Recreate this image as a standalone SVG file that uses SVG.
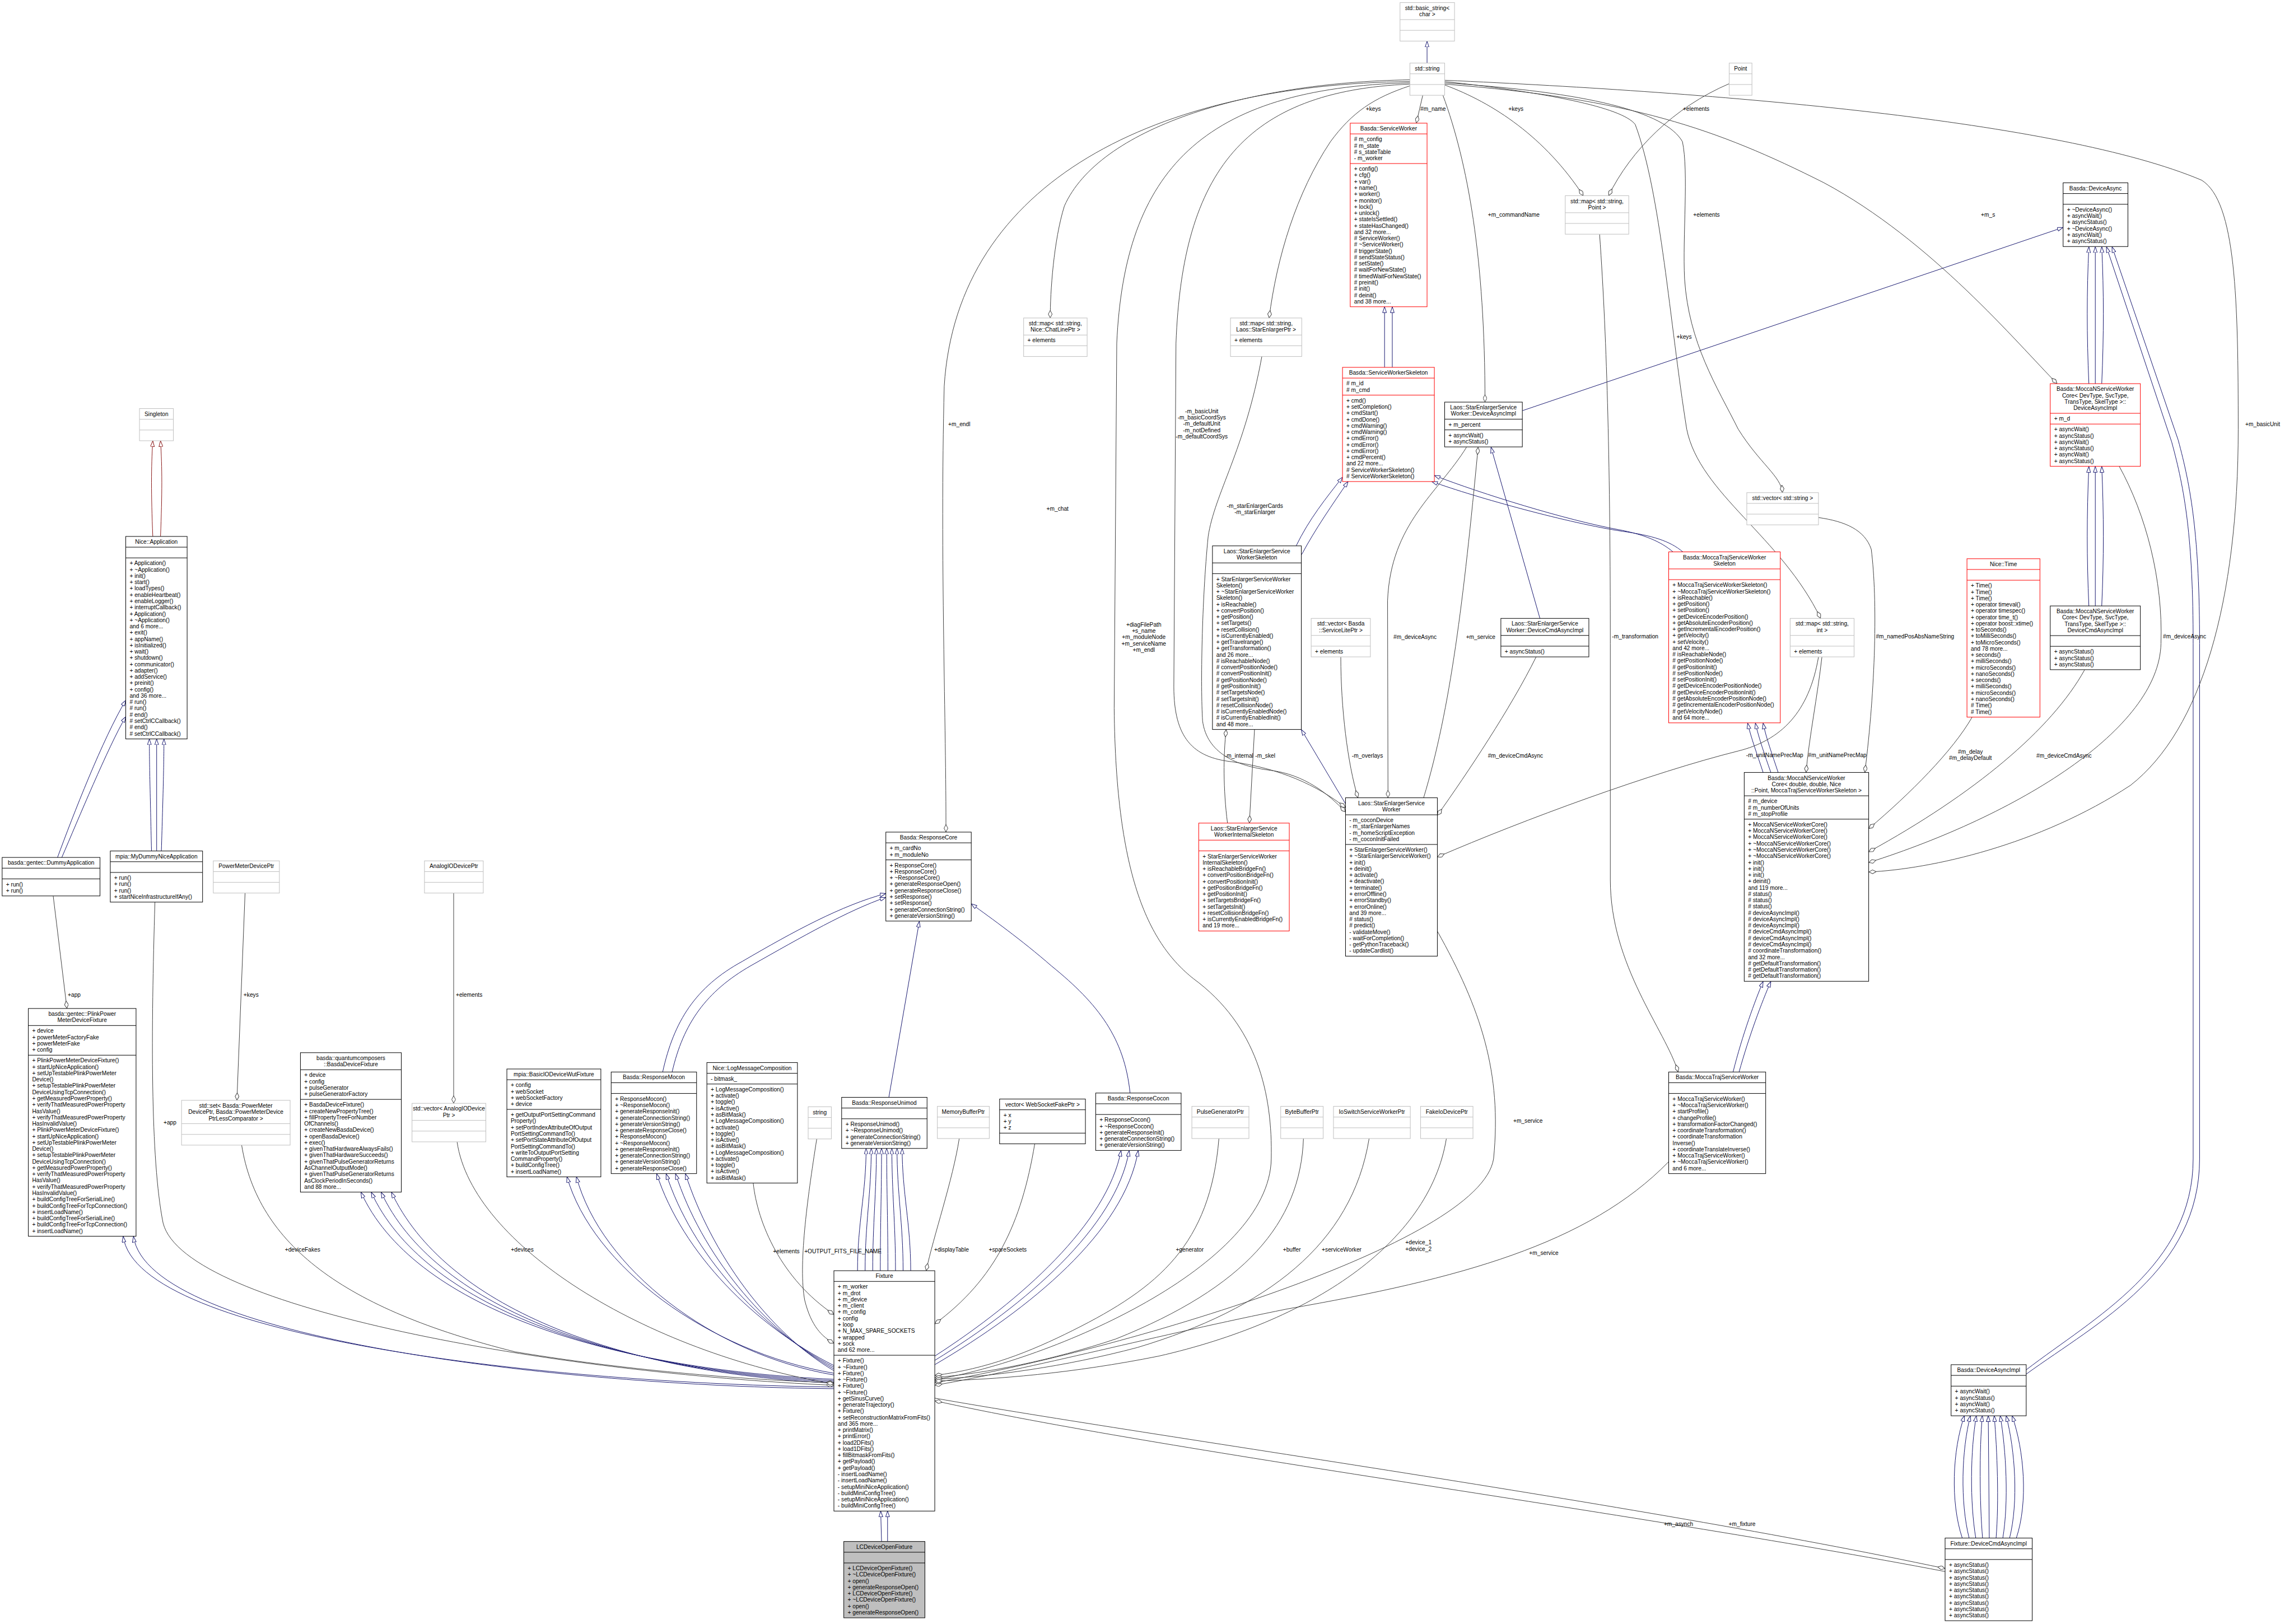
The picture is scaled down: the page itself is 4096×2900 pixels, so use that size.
<svg xmlns="http://www.w3.org/2000/svg" width="4096" height="2900" viewBox="0 0 4096 2900">
<defs>
<style>
text{font-family:"Liberation Sans",Arial,sans-serif;font-size:13.3px;fill:#000}
.c{text-anchor:middle}
.nb rect{fill:#fff;stroke:#000;stroke-width:1.3}
.nb path{stroke:#000;stroke-width:1.3}
.ng rect{fill:#fff;stroke:#bfbfbf;stroke-width:1.3}
.ng path{stroke:#bfbfbf;stroke-width:1.3}
.nr rect{fill:#fff;stroke:#ff0000;stroke-width:1.3}
.nr path{stroke:#ff0000;stroke-width:1.3}
.nf rect{fill:#bfbfbf;stroke:#000;stroke-width:1.3}
.nf path{stroke:#000;stroke-width:1.3}
.i{fill:none;stroke:#191970;stroke-width:1.3;marker-end:url(#tri)}
.p{fill:none;stroke:#8b1a1a;stroke-width:1.3;marker-end:url(#trir)}
.u{fill:none;stroke:#404040;stroke-width:1.3;marker-end:url(#dia)}
</style>
<marker id="tri" viewBox="0 0 14 10" refX="14" refY="5" markerWidth="14" markerHeight="10" orient="auto" markerUnits="userSpaceOnUse"><path d="M0.5,0.5 L14,5 L0.5,9.5 z" fill="#fff" stroke="#191970" stroke-width="1.3"/></marker>
<marker id="trir" viewBox="0 0 14 10" refX="14" refY="5" markerWidth="14" markerHeight="10" orient="auto" markerUnits="userSpaceOnUse"><path d="M0.5,0.5 L14,5 L0.5,9.5 z" fill="#fff" stroke="#8b1a1a" stroke-width="1.3"/></marker>
<marker id="dia" viewBox="0 0 18 10" refX="18" refY="5" markerWidth="18" markerHeight="10" orient="auto" markerUnits="userSpaceOnUse"><path d="M0.5,5 L9,0.5 L17.5,5 L9,9.5 z" fill="#fff" stroke="#404040" stroke-width="1.3"/></marker>
</defs>
<rect x="0" y="0" width="4096" height="2900" fill="#fff"/>
<g transform="scale(0.76633)">
<g id="connectors">
<path class="i" d="M3325,147 L3325,96"/>
<path class="i" d="M3226,856 L3226,715"/>
<path class="i" d="M3244,856 L3244,715"/>
<path class="i" d="M3020,1272 C3050,1210 3090,1160 3128,1112"/>
<path class="i" d="M3033,1292 C3065,1232 3105,1175 3141,1122"/>
<path class="i" d="M3898,1286 C3870,1262 3830,1245 3770,1234 C3650,1212 3450,1150 3342,1108"/>
<path class="i" d="M3921,1286 C3890,1260 3850,1248 3780,1238 C3660,1220 3440,1160 3336,1122"/>
<path class="i" d="M3547,957 L4807,530"/>
<path class="i" d="M3588,1441 L3474,1042"/>
<path class="i" d="M3135,1873 L3032,1700"/>
<path class="i" d="M4867,894 C4862,780 4862,680 4867,575"/>
<path class="i" d="M4882,894 L4882,575"/>
<path class="i" d="M4897,894 C4902,780 4902,680 4897,575"/>
<path class="i" d="M4721,3192 C4880,3070 5110,2950 5110,2700 L5110,1500 C5110,1250 5090,1140 5060,1030 L4908,575"/>
<path class="i" d="M4721,3202 C4890,3080 5125,2960 5125,2700 L5125,1500 C5125,1250 5105,1135 5075,1025 L4921,575"/>
<path class="i" d="M4867,1412 C4862,1300 4862,1200 4867,1087"/>
<path class="i" d="M4882,1412 L4882,1087"/>
<path class="i" d="M4897,1412 C4902,1300 4902,1200 4897,1087"/>
<path class="i" d="M4038,2498 C4060,2410 4090,2330 4108,2287"/>
<path class="i" d="M4052,2498 C4075,2415 4105,2335 4126,2287"/>
<path class="i" d="M4108,1800 C4095,1760 4080,1720 4072,1685"/>
<path class="i" d="M4126,1800 C4112,1760 4098,1720 4090,1685"/>
<path class="i" d="M4143,1800 C4130,1760 4115,1720 4108,1685"/>
<path class="i" d="M4572,3584 C4544,3500 4549,3380 4577,3299"/>
<path class="i" d="M4588,3584 C4567,3500 4570,3380 4591,3299"/>
<path class="i" d="M4603.5,3584 C4589.5,3500 4590.8,3380 4604.8,3299"/>
<path class="i" d="M4619.3,3584 C4612.3,3500 4611.7,3380 4618.7,3299"/>
<path class="i" d="M4635,3584 L4632.6,3299"/>
<path class="i" d="M4650.8,3584 C4657.8,3500 4653.5,3380 4646.5,3299"/>
<path class="i" d="M4666.5,3584 C4680.5,3500 4674.4,3380 4660.4,3299"/>
<path class="i" d="M4682.3,3584 C4703.3,3500 4695.3,3380 4674.3,3299"/>
<path class="i" d="M4698,3584 C4726,3500 4716.2,3380 4688.2,3299"/>
<path class="p" d="M356,1250 C352,1150 352,1090 356,1027"/>
<path class="p" d="M374,1250 C378,1150 378,1090 374,1027"/>
<path class="i" d="M134,1998 C170,1900 240,1720 293,1632"/>
<path class="i" d="M144,1998 C182,1910 252,1740 293,1670"/>
<path class="i" d="M353,1983 C350,1850 348,1780 348,1722"/>
<path class="i" d="M365,1983 L365,1722"/>
<path class="i" d="M376,1983 C380,1850 382,1780 382,1722"/>
<path class="i" d="M1943,3232 C1300,3225 320,3120 287,2881"/>
<path class="i" d="M1943,3236 C1310,3230 345,3120 311,2881"/>
<path class="i" d="M1943,3214 C1400,3190 960,3040 841,2778"/>
<path class="i" d="M1943,3217 C1410,3193 985,3040 865,2778"/>
<path class="i" d="M1943,3220 C1420,3196 1010,3040 888,2778"/>
<path class="i" d="M1943,3223 C1430,3199 1035,3040 912,2778"/>
<path class="i" d="M1943,3200 C1650,3150 1380,2950 1321,2742"/>
<path class="i" d="M1943,3204 C1660,3156 1400,2955 1343,2742"/>
<path class="i" d="M1943,3182 C1760,3090 1590,2920 1530,2735"/>
<path class="i" d="M1943,3186 C1770,3095 1612,2920 1552,2735"/>
<path class="i" d="M1943,3190 C1780,3100 1634,2920 1574,2735"/>
<path class="i" d="M1943,3194 C1790,3105 1657,2920 1597,2735"/>
<path class="i" d="M1998,2961 C1998,2850 2018,2780 2018,2676"/>
<path class="i" d="M2015.7,2961 C2015.7,2850 2030,2780 2030,2676"/>
<path class="i" d="M2033.4,2961 C2033.4,2850 2042,2780 2042,2676"/>
<path class="i" d="M2051.1,2961 C2051.1,2850 2054,2780 2054,2676"/>
<path class="i" d="M2068.8,2961 C2068.8,2850 2066,2780 2066,2676"/>
<path class="i" d="M2086.5,2961 C2086.5,2850 2078,2780 2078,2676"/>
<path class="i" d="M2104.2,2961 C2104.2,2850 2090,2780 2090,2676"/>
<path class="i" d="M2121.9,2961 C2121.9,2850 2102,2780 2102,2676"/>
<path class="i" d="M2178,3160 C2380,3030 2580,2850 2612,2681"/>
<path class="i" d="M2178,3170 C2390,3040 2600,2860 2631,2681"/>
<path class="i" d="M2178,3180 C2400,3050 2620,2870 2652,2681"/>
<path class="i" d="M2054,3592 L2052,3521"/>
<path class="i" d="M2068,3592 L2068,3521"/>
<path class="i" d="M1544,2498 C1570,2380 1620,2300 1730,2240 C1850,2170 1960,2110 2064,2082"/>
<path class="i" d="M1566,2498 C1592,2385 1645,2310 1750,2250 C1870,2182 1975,2122 2064,2091"/>
<path class="i" d="M2071,2557 L2142,2147"/>
<path class="i" d="M2633,2547 C2620,2420 2560,2340 2450,2251 C2380,2190 2310,2140 2263,2106"/>
<path class="u" d="M3315,222 L3300,287"/>
<path class="u" d="M3285,200 C3200,228 3150,262 3100,330 C3020,450 2975,600 2957,741"/>
<path class="u" d="M3285,186 C2900,192 2560,300 2480,480 C2455,560 2447,680 2447,741"/>
<path class="u" d="M3285,190 C2700,196 2230,420 2200,900 C2190,1300 2205,1700 2204,1939"/>
<path class="u" d="M3285,193 C2800,205 2620,400 2602,800 L2596,1650 C2600,2050 2680,2200 2780,2280 C2930,2390 2965,2550 2962,2700 C2958,2950 2450,3170 2178,3215"/>
<path class="u" d="M3285,196 C2900,212 2755,400 2740,800 L2735,1600 C2735,1720 2780,1765 2870,1775 C2980,1790 3070,1830 3135,1882"/>
<path class="u" d="M2940,831 C2900,1050 2830,1150 2815,1250 C2800,1400 2797,1600 2802,1680 C2812,1755 2880,1785 2960,1795 C3040,1805 3095,1850 3135,1892"/>
<path class="u" d="M3366,198 C3480,240 3600,320 3689,456"/>
<path class="u" d="M4029,195 C3900,250 3800,350 3748,456"/>
<path class="u" d="M3362,222 C3420,380 3460,600 3460,937"/>
<path class="u" d="M3366,190 C3600,215 3780,250 3810,290 C3870,450 3890,750 3930,1000 C3960,1150 4150,1250 4242,1441"/>
<path class="u" d="M3366,193 C3700,215 3880,260 3920,330 C3935,400 3920,550 3925,650 C3935,800 4000,900 4050,1000 C4100,1080 4150,1110 4153,1148"/>
<path class="u" d="M3366,196 C3800,230 4000,300 4250,426 C4500,560 4700,800 4793,894"/>
<path class="u" d="M3366,187 C4000,215 4800,280 5130,420 C5210,470 5215,700 5215,1000 C5215,1400 5130,1700 4964,1830 C4750,1970 4500,2025 4354,2032"/>
<path class="u" d="M4237,1206 C4300,1215 4345,1235 4360,1280 C4375,1400 4370,1600 4345,1800"/>
<path class="u" d="M4245,1531 C4235,1620 4215,1720 4208,1800"/>
<path class="u" d="M4237,1531 C4215,1660 4150,1725 4050,1750 C3850,1800 3550,1910 3349,1997"/>
<path class="u" d="M3727,546 C3745,800 3752,1100 3752,1500 L3752,2050 C3752,2250 3880,2400 3910,2498"/>
<path class="u" d="M4595,1671 C4550,1750 4450,1850 4354,1931"/>
<path class="u" d="M4857,1561 C4780,1700 4600,1850 4354,1985"/>
<path class="u" d="M4938,1087 C5000,1200 5040,1350 5035,1500 C5030,1700 4700,1900 4354,2010"/>
<path class="u" d="M3888,2707 C3700,2900 3400,2980 3000,3050 C2700,3110 2400,3190 2178,3228"/>
<path class="u" d="M3349,2170 C3450,2350 3500,2500 3480,2700 C3450,2900 2600,3150 2178,3222"/>
<path class="u" d="M3417,1042 C3350,1150 3240,1220 3233,1400 L3234,1859"/>
<path class="u" d="M3317,1859 C3380,1650 3410,1400 3444,1042"/>
<path class="u" d="M3124,1531 C3124,1650 3140,1780 3164,1859"/>
<path class="u" d="M3579,1531 C3520,1650 3420,1800 3349,1900"/>
<path class="u" d="M2860,1918 C2850,1840 2850,1760 2857,1700"/>
<path class="u" d="M2923,1700 L2911,1918"/>
<path class="u" d="M571,2081 L552,2564"/>
<path class="u" d="M1057,2081 L1057,2571"/>
<path class="u" d="M124,2088 L156,2350"/>
<path class="u" d="M361,2102 C352,2400 350,2700 380,2850 C430,3050 1300,3200 1943,3228"/>
<path class="u" d="M563,2668 C600,2900 800,3050 1200,3150 C1500,3200 1800,3218 1943,3222"/>
<path class="u" d="M1065,2661 C1100,2900 1500,3150 1943,3225"/>
<path class="u" d="M1755,2757 C1765,2850 1820,2980 1943,3063"/>
<path class="u" d="M1903,2654 C1880,2800 1860,2950 1875,3030 C1890,3090 1915,3115 1943,3130"/>
<path class="u" d="M2235,2653 C2220,2750 2175,2880 2158,2961"/>
<path class="u" d="M2411,2665 C2380,2850 2320,2980 2178,3085"/>
<path class="u" d="M2840,2653 C2820,2900 2700,3000 2500,3100 C2400,3150 2300,3190 2178,3205"/>
<path class="u" d="M3037,2653 C3030,2850 2900,3000 2600,3120 C2450,3170 2300,3200 2178,3210"/>
<path class="u" d="M3190,2653 C3150,2900 2950,3050 2650,3140 C2480,3185 2310,3208 2178,3214"/>
<path class="u" d="M3370,2653 C3330,2900 3050,3080 2700,3160 C2500,3200 2320,3215 2178,3218"/>
<path class="u" d="M2178,3258 C2700,3350 3800,3500 4532,3655"/>
<path class="u" d="M4532,3662 C3800,3522 2700,3380 2178,3264"/>
<text class="c" x="3200" y="259">+keys</text>
<text class="c" x="3339" y="259">#m_name</text>
<text class="c" x="3532" y="259">+keys</text>
<text class="c" x="3952" y="259">+elements</text>
<text class="c" x="3527" y="505">+m_commandName</text>
<text class="c" x="3976" y="505">+elements</text>
<text class="c" x="3924" y="789">+keys</text>
<text class="c" x="4632" y="505">+m_s</text>
<text class="c" x="5272" y="993">+m_basicUnit</text>
<text class="c" x="2235" y="993">+m_endl</text>
<text class="c" x="2800" y="963">-m_basicUnit<tspan x="2800" dy="14.7">-m_basicCoordSys</tspan><tspan x="2800" dy="14.7">-m_defaultUnit</tspan><tspan x="2800" dy="14.7">-m_notDefined</tspan><tspan x="2800" dy="14.7">-m_defaultCoordSys</tspan></text>
<text class="c" x="2924" y="1183">-m_starEnlargerCards<tspan x="2924" dy="14.7">-m_starEnlarger</tspan></text>
<text class="c" x="2464" y="1190">+m_chat</text>
<text class="c" x="2665" y="1460">+diagFilePath<tspan x="2665" dy="14.7">+s_name</tspan><tspan x="2665" dy="14.7">+m_moduleNode</tspan><tspan x="2665" dy="14.7">+m_serviceName</tspan><tspan x="2665" dy="14.7">+m_endl</tspan></text>
<text class="c" x="3297" y="1489">#m_deviceAsync</text>
<text class="c" x="3450" y="1489">+m_service</text>
<text class="c" x="2887" y="1765">-m_internal</text>
<text class="c" x="2948" y="1765">-m_skel</text>
<text class="c" x="3186" y="1765">-m_overlays</text>
<text class="c" x="3531" y="1765">#m_deviceCmdAsync</text>
<text class="c" x="3810" y="1488">-m_transformation</text>
<text class="c" x="4135" y="1764">-m_unitNamePrecMap</text>
<text class="c" x="4281" y="1764">#m_unitNamePrecMap</text>
<text class="c" x="4462" y="1488">#m_namedPosAbsNameString</text>
<text class="c" x="4591" y="1756">#m_delay<tspan x="4591" dy="14.7">#m_delayDefault</tspan></text>
<text class="c" x="4809" y="1765">#m_deviceCmdAsync</text>
<text class="c" x="5090" y="1488">#m_deviceAsync</text>
<text class="c" x="173" y="2323">+app</text>
<text class="c" x="585" y="2323">+keys</text>
<text class="c" x="1093" y="2323">+elements</text>
<text class="c" x="396" y="2620">+app</text>
<text class="c" x="705" y="2916">+deviceFakes</text>
<text class="c" x="1217" y="2916">+devices</text>
<text class="c" x="1832" y="2920">+elements</text>
<text class="c" x="1964" y="2920">+OUTPUT_FITS_FILE_NAME</text>
<text class="c" x="2217" y="2916">+displayTable</text>
<text class="c" x="2348" y="2916">+spareSockets</text>
<text class="c" x="2772" y="2916">+generator</text>
<text class="c" x="3010" y="2916">+buffer</text>
<text class="c" x="3126" y="2916">+serviceWorker</text>
<text class="c" x="3305" y="2900">+device_1<tspan x="3305" dy="14.7">+device_2</tspan></text>
<text class="c" x="3560" y="2616">+m_service</text>
<text class="c" x="3597" y="2925">+m_service</text>
<text class="c" x="3911" y="3556">+m_asynch</text>
<text class="c" x="4059" y="3556">+m_fixture</text>
</g>
<g id="n_basic_string" class="ng"><rect x="3262" y="6" width="127" height="89.7"/><path d="M3262,45.7h127M3262,70.7h127"/><text class="c" x="3325.5" y="23.2">std::basic_string&lt;<tspan x="3325.5" dy="14.7">char &gt;</tspan></text></g>
<g id="n_std_string" class="ng"><rect x="3285" y="147" width="81" height="75"/><path d="M3285,172h81M3285,197h81"/><text class="c" x="3325.5" y="164.2">std::string</text></g>
<g id="n_point" class="ng"><rect x="4029" y="147" width="53" height="75"/><path d="M4029,172h53M4029,197h53"/><text class="c" x="4055.5" y="164.2">Point</text></g>
<g id="n_serviceworker" class="nr"><rect x="3146" y="287" width="179" height="427.8"/><path d="M3146,312h179M3146,381.1h179"/><text class="c" x="3235.5" y="304.2">Basda::ServiceWorker</text>
<text x="3155" y="329.2"># m_config<tspan x="3155" dy="14.7"># m_state</tspan><tspan x="3155" dy="14.7"># s_stateTable</tspan><tspan x="3155" dy="14.7">- m_worker</tspan></text>
<text x="3155" y="398.3">+ config()<tspan x="3155" dy="14.7">+ cfg()</tspan><tspan x="3155" dy="14.7">+ var()</tspan><tspan x="3155" dy="14.7">+ name()</tspan><tspan x="3155" dy="14.7">+ worker()</tspan><tspan x="3155" dy="14.7">+ monitor()</tspan><tspan x="3155" dy="14.7">+ lock()</tspan><tspan x="3155" dy="14.7">+ unlock()</tspan><tspan x="3155" dy="14.7">+ stateIsSettled()</tspan><tspan x="3155" dy="14.7">+ stateHasChanged()</tspan><tspan x="3155" dy="14.7">and 32 more...</tspan><tspan x="3155" dy="14.7"># ServiceWorker()</tspan><tspan x="3155" dy="14.7"># ~ServiceWorker()</tspan><tspan x="3155" dy="14.7"># triggerState()</tspan><tspan x="3155" dy="14.7"># sendStateStatus()</tspan><tspan x="3155" dy="14.7"># setState()</tspan><tspan x="3155" dy="14.7"># waitForNewState()</tspan><tspan x="3155" dy="14.7"># timedWaitForNewState()</tspan><tspan x="3155" dy="14.7"># preinit()</tspan><tspan x="3155" dy="14.7"># init()</tspan><tspan x="3155" dy="14.7"># deinit()</tspan><tspan x="3155" dy="14.7">and 38 more...</tspan></text></g>
<g id="n_map_point" class="ng"><rect x="3647" y="456" width="148" height="89.7"/><path d="M3647,495.7h148M3647,520.7h148"/><text class="c" x="3721" y="473.2">std::map&lt; std::string,<tspan x="3721" dy="14.7">Point &gt;</tspan></text></g>
<g id="n_deviceasync" class="nb"><rect x="4807" y="426" width="151" height="148.5"/><path d="M4807,451h151M4807,476h151"/><text class="c" x="4882.5" y="443.2">Basda::DeviceAsync</text>
<text x="4816" y="493.2">+ ~DeviceAsync()<tspan x="4816" dy="14.7">+ asyncWait()</tspan><tspan x="4816" dy="14.7">+ asyncStatus()</tspan><tspan x="4816" dy="14.7">+ ~DeviceAsync()</tspan><tspan x="4816" dy="14.7">+ asyncWait()</tspan><tspan x="4816" dy="14.7">+ asyncStatus()</tspan></text></g>
<g id="n_singleton" class="ng"><rect x="325" y="952" width="79" height="75"/><path d="M325,977h79M325,1002h79"/><text class="c" x="364.5" y="969.2">Singleton</text></g>
<g id="n_nice_application" class="nb"><rect x="293" y="1250" width="143" height="471.9"/><path d="M293,1275h143M293,1300h143"/><text class="c" x="364.5" y="1267.2">Nice::Application</text>
<text x="302" y="1317.2">+ Application()<tspan x="302" dy="14.7">+ ~Application()</tspan><tspan x="302" dy="14.7">+ init()</tspan><tspan x="302" dy="14.7">+ start()</tspan><tspan x="302" dy="14.7">+ loadTypes()</tspan><tspan x="302" dy="14.7">+ enableHeartbeat()</tspan><tspan x="302" dy="14.7">+ enableLogger()</tspan><tspan x="302" dy="14.7">+ interruptCallback()</tspan><tspan x="302" dy="14.7">+ Application()</tspan><tspan x="302" dy="14.7">+ ~Application()</tspan><tspan x="302" dy="14.7">and 6 more...</tspan><tspan x="302" dy="14.7">+ exit()</tspan><tspan x="302" dy="14.7">+ appName()</tspan><tspan x="302" dy="14.7">+ isInitialized()</tspan><tspan x="302" dy="14.7">+ wait()</tspan><tspan x="302" dy="14.7">+ shutdown()</tspan><tspan x="302" dy="14.7">+ communicator()</tspan><tspan x="302" dy="14.7">+ adapter()</tspan><tspan x="302" dy="14.7">+ addService()</tspan><tspan x="302" dy="14.7">+ preinit()</tspan><tspan x="302" dy="14.7">+ config()</tspan><tspan x="302" dy="14.7">and 36 more...</tspan><tspan x="302" dy="14.7"># run()</tspan><tspan x="302" dy="14.7"># run()</tspan><tspan x="302" dy="14.7"># end()</tspan><tspan x="302" dy="14.7"># setCtrlCCallback()</tspan><tspan x="302" dy="14.7"># end()</tspan><tspan x="302" dy="14.7"># setCtrlCCallback()</tspan></text></g>
<g id="n_dummyapp" class="nb"><rect x="5" y="1998" width="228" height="89.7"/><path d="M5,2023h228M5,2048h228"/><text class="c" x="119" y="2015.2">basda::gentec::DummyApplication</text>
<text x="14" y="2065.2">+ run()<tspan x="14" dy="14.7">+ run()</tspan></text></g>
<g id="n_mydummy" class="nb"><rect x="257" y="1983" width="215" height="119.1"/><path d="M257,2008h215M257,2033h215"/><text class="c" x="364.5" y="2000.2">mpia::MyDummyNiceApplication</text>
<text x="266" y="2050.2">+ run()<tspan x="266" dy="14.7">+ run()</tspan><tspan x="266" dy="14.7">+ run()</tspan><tspan x="266" dy="14.7">+ startNiceInfrastructureIfAny()</tspan></text></g>
<g id="n_powermeterptr" class="ng"><rect x="497" y="2006" width="154" height="75"/><path d="M497,2031h154M497,2056h154"/><text class="c" x="574" y="2023.2">PowerMeterDevicePtr</text></g>
<g id="n_analogioptr" class="ng"><rect x="989" y="2006" width="137" height="75"/><path d="M989,2031h137M989,2056h137"/><text class="c" x="1057.5" y="2023.2">AnalogIODevicePtr</text></g>
<g id="n_plink" class="nb"><rect x="66" y="2350" width="251" height="530.7"/><path d="M66,2389.7h251M66,2458.8h251"/><text class="c" x="191.5" y="2367.2">basda::gentec::PlinkPower<tspan x="191.5" dy="14.7">MeterDeviceFixture</tspan></text>
<text x="75" y="2406.9">+ device<tspan x="75" dy="14.7">+ powerMeterFactoryFake</tspan><tspan x="75" dy="14.7">+ powerMeterFake</tspan><tspan x="75" dy="14.7">+ config</tspan></text>
<text x="75" y="2476">+ PlinkPowerMeterDeviceFixture()<tspan x="75" dy="14.7">+ startUpNiceApplication()</tspan><tspan x="75" dy="14.7">+ setUpTestablePlinkPowerMeter</tspan><tspan x="75" dy="14.7">Device()</tspan><tspan x="75" dy="14.7">+ setupTestablePlinkPowerMeter</tspan><tspan x="75" dy="14.7">DeviceUsingTcpConnection()</tspan><tspan x="75" dy="14.7">+ getMeasuredPowerProperty()</tspan><tspan x="75" dy="14.7">+ verifyThatMeasuredPowerProperty</tspan><tspan x="75" dy="14.7">HasValue()</tspan><tspan x="75" dy="14.7">+ verifyThatMeasuredPowerProperty</tspan><tspan x="75" dy="14.7">HasInvalidValue()</tspan><tspan x="75" dy="14.7">+ PlinkPowerMeterDeviceFixture()</tspan><tspan x="75" dy="14.7">+ startUpNiceApplication()</tspan><tspan x="75" dy="14.7">+ setUpTestablePlinkPowerMeter</tspan><tspan x="75" dy="14.7">Device()</tspan><tspan x="75" dy="14.7">+ setupTestablePlinkPowerMeter</tspan><tspan x="75" dy="14.7">DeviceUsingTcpConnection()</tspan><tspan x="75" dy="14.7">+ getMeasuredPowerProperty()</tspan><tspan x="75" dy="14.7">+ verifyThatMeasuredPowerProperty</tspan><tspan x="75" dy="14.7">HasValue()</tspan><tspan x="75" dy="14.7">+ verifyThatMeasuredPowerProperty</tspan><tspan x="75" dy="14.7">HasInvalidValue()</tspan><tspan x="75" dy="14.7">+ buildConfigTreeForSerialLine()</tspan><tspan x="75" dy="14.7">+ buildConfigTreeForTcpConnection()</tspan><tspan x="75" dy="14.7">+ insertLoadName()</tspan><tspan x="75" dy="14.7">+ buildConfigTreeForSerialLine()</tspan><tspan x="75" dy="14.7">+ buildConfigTreeForTcpConnection()</tspan><tspan x="75" dy="14.7">+ insertLoadName()</tspan></text></g>
<g id="n_set_powermeter" class="ng"><rect x="423" y="2564" width="253" height="104.4"/><path d="M423,2618.4h253M423,2643.4h253"/><text class="c" x="549.5" y="2581.2">std::set&lt; Basda::PowerMeter<tspan x="549.5" dy="14.7">DevicePtr, Basda::PowerMeterDevice</tspan><tspan x="549.5" dy="14.7">PtrLessComparator &gt;</tspan></text></g>
<g id="n_basdadevicefixture" class="nb"><rect x="700" y="2453" width="235" height="324.9"/><path d="M700,2492.7h235M700,2561.8h235"/><text class="c" x="817.5" y="2470.2">basda::quantumcomposers<tspan x="817.5" dy="14.7">::BasdaDeviceFixture</tspan></text>
<text x="709" y="2509.9">+ device<tspan x="709" dy="14.7">+ config</tspan><tspan x="709" dy="14.7">+ pulseGenerator</tspan><tspan x="709" dy="14.7">+ pulseGeneratorFactory</tspan></text>
<text x="709" y="2579">+ BasdaDeviceFixture()<tspan x="709" dy="14.7">+ createNewPropertyTree()</tspan><tspan x="709" dy="14.7">+ fillPropertyTreeForNumber</tspan><tspan x="709" dy="14.7">OfChannels()</tspan><tspan x="709" dy="14.7">+ createNewBasdaDevice()</tspan><tspan x="709" dy="14.7">+ openBasdaDevice()</tspan><tspan x="709" dy="14.7">+ exec()</tspan><tspan x="709" dy="14.7">+ givenThatHardwareAlwaysFails()</tspan><tspan x="709" dy="14.7">+ givenThatHardwareSucceeds()</tspan><tspan x="709" dy="14.7">+ givenThatPulseGeneratorReturns</tspan><tspan x="709" dy="14.7">AsChannelOutputMode()</tspan><tspan x="709" dy="14.7">+ givenThatPulseGeneratorReturns</tspan><tspan x="709" dy="14.7">AsClockPeriodInSeconds()</tspan><tspan x="709" dy="14.7">and 88 more...</tspan></text></g>
<g id="n_vector_analogio" class="ng"><rect x="960" y="2571" width="172" height="89.7"/><path d="M960,2610.7h172M960,2635.7h172"/><text class="c" x="1046" y="2588.2">std::vector&lt; AnalogIODevice<tspan x="1046" dy="14.7">Ptr &gt;</tspan></text></g>
<g id="n_basicio" class="nb"><rect x="1181" y="2491" width="219" height="251.4"/><path d="M1181,2516h219M1181,2585.1h219"/><text class="c" x="1290.5" y="2508.2">mpia::BasicIODeviceWutFixture</text>
<text x="1190" y="2533.2">+ config<tspan x="1190" dy="14.7">+ webSocket</tspan><tspan x="1190" dy="14.7">+ webSocketFactory</tspan><tspan x="1190" dy="14.7">+ device</tspan></text>
<text x="1190" y="2602.3">+ getOutputPortSettingCommand<tspan x="1190" dy="14.7">Property()</tspan><tspan x="1190" dy="14.7">+ setPortIndexAttributeOfOutput</tspan><tspan x="1190" dy="14.7">PortSettingCommandTo()</tspan><tspan x="1190" dy="14.7">+ setPortStateAttributeOfOutput</tspan><tspan x="1190" dy="14.7">PortSettingCommandTo()</tspan><tspan x="1190" dy="14.7">+ writeToOutputPortSetting</tspan><tspan x="1190" dy="14.7">CommandProperty()</tspan><tspan x="1190" dy="14.7">+ buildConfigTree()</tspan><tspan x="1190" dy="14.7">+ insertLoadName()</tspan></text></g>
<g id="n_responsemocon" class="nb"><rect x="1424" y="2498" width="199" height="236.7"/><path d="M1424,2523h199M1424,2548h199"/><text class="c" x="1523.5" y="2515.2">Basda::ResponseMocon</text>
<text x="1433" y="2565.2">+ ResponseMocon()<tspan x="1433" dy="14.7">+ ~ResponseMocon()</tspan><tspan x="1433" dy="14.7">+ generateResponseInit()</tspan><tspan x="1433" dy="14.7">+ generateConnectionString()</tspan><tspan x="1433" dy="14.7">+ generateVersionString()</tspan><tspan x="1433" dy="14.7">+ generateResponseClose()</tspan><tspan x="1433" dy="14.7">+ ResponseMocon()</tspan><tspan x="1433" dy="14.7">+ ~ResponseMocon()</tspan><tspan x="1433" dy="14.7">+ generateResponseInit()</tspan><tspan x="1433" dy="14.7">+ generateConnectionString()</tspan><tspan x="1433" dy="14.7">+ generateVersionString()</tspan><tspan x="1433" dy="14.7">+ generateResponseClose()</tspan></text></g>
<g id="n_logmessage" class="nb"><rect x="1647" y="2476" width="211" height="280.8"/><path d="M1647,2501h211M1647,2526h211"/><text class="c" x="1752.5" y="2493.2">Nice::LogMessageComposition</text>
<text x="1656" y="2518.2">- bitmask_</text>
<text x="1656" y="2543.2">+ LogMessageComposition()<tspan x="1656" dy="14.7">+ activate()</tspan><tspan x="1656" dy="14.7">+ toggle()</tspan><tspan x="1656" dy="14.7">+ isActive()</tspan><tspan x="1656" dy="14.7">+ asBitMask()</tspan><tspan x="1656" dy="14.7">+ LogMessageComposition()</tspan><tspan x="1656" dy="14.7">+ activate()</tspan><tspan x="1656" dy="14.7">+ toggle()</tspan><tspan x="1656" dy="14.7">+ isActive()</tspan><tspan x="1656" dy="14.7">+ asBitMask()</tspan><tspan x="1656" dy="14.7">+ LogMessageComposition()</tspan><tspan x="1656" dy="14.7">+ activate()</tspan><tspan x="1656" dy="14.7">+ toggle()</tspan><tspan x="1656" dy="14.7">+ isActive()</tspan><tspan x="1656" dy="14.7">+ asBitMask()</tspan></text></g>
<g id="n_string" class="ng"><rect x="1883" y="2579" width="54" height="75"/><path d="M1883,2604h54M1883,2629h54"/><text class="c" x="1910" y="2596.2">string</text></g>
<g id="n_responseunimod" class="nb"><rect x="1961" y="2557" width="199" height="119.1"/><path d="M1961,2582h199M1961,2607h199"/><text class="c" x="2060.5" y="2574.2">Basda::ResponseUnimod</text>
<text x="1970" y="2624.2">+ ResponseUnimod()<tspan x="1970" dy="14.7">+ ~ResponseUnimod()</tspan><tspan x="1970" dy="14.7">+ generateConnectionString()</tspan><tspan x="1970" dy="14.7">+ generateVersionString()</tspan></text></g>
<g id="n_memorybufferptr" class="ng"><rect x="2184" y="2578" width="121" height="75"/><path d="M2184,2603h121M2184,2628h121"/><text class="c" x="2244.5" y="2595.2">MemoryBufferPtr</text></g>
<g id="n_vector_websocket" class="nb"><rect x="2329" y="2561" width="200" height="104.4"/><path d="M2329,2586h200M2329,2640.4h200"/><text class="c" x="2429" y="2578.2">vector&lt; WebSocketFakePtr &gt;</text>
<text x="2338" y="2603.2">+ x<tspan x="2338" dy="14.7">+ y</tspan><tspan x="2338" dy="14.7">+ z</tspan></text></g>
<g id="n_responsecocon" class="nb"><rect x="2553" y="2547" width="199" height="133.8"/><path d="M2553,2572h199M2553,2597h199"/><text class="c" x="2652.5" y="2564.2">Basda::ResponseCocon</text>
<text x="2562" y="2614.2">+ ResponseCocon()<tspan x="2562" dy="14.7">+ ~ResponseCocon()</tspan><tspan x="2562" dy="14.7">+ generateResponseInit()</tspan><tspan x="2562" dy="14.7">+ generateConnectionString()</tspan><tspan x="2562" dy="14.7">+ generateVersionString()</tspan></text></g>
<g id="n_pulsegeneratorptr" class="ng"><rect x="2777" y="2578" width="133" height="75"/><path d="M2777,2603h133M2777,2628h133"/><text class="c" x="2843.5" y="2595.2">PulseGeneratorPtr</text></g>
<g id="n_bytebufferptr" class="ng"><rect x="2984" y="2578" width="99" height="75"/><path d="M2984,2603h99M2984,2628h99"/><text class="c" x="3033.5" y="2595.2">ByteBufferPtr</text></g>
<g id="n_ioswitchptr" class="ng"><rect x="3107" y="2578" width="179" height="75"/><path d="M3107,2603h179M3107,2628h179"/><text class="c" x="3196.5" y="2595.2">IoSwitchServiceWorkerPtr</text></g>
<g id="n_fakeiodeviceptr" class="ng"><rect x="3310" y="2578" width="122" height="75"/><path d="M3310,2603h122M3310,2628h122"/><text class="c" x="3371" y="2595.2">FakeIoDevicePtr</text></g>
<g id="n_responsecore" class="nb"><rect x="2064" y="1939" width="199" height="207.3"/><path d="M2064,1964h199M2064,2003.7h199"/><text class="c" x="2163.5" y="1956.2">Basda::ResponseCore</text>
<text x="2073" y="1981.2">+ m_cardNo<tspan x="2073" dy="14.7">+ m_moduleNo</tspan></text>
<text x="2073" y="2020.9">+ ResponseCore()<tspan x="2073" dy="14.7">+ ResponseCore()</tspan><tspan x="2073" dy="14.7">+ ~ResponseCore()</tspan><tspan x="2073" dy="14.7">+ generateResponseOpen()</tspan><tspan x="2073" dy="14.7">+ generateResponseClose()</tspan><tspan x="2073" dy="14.7">+ setResponse()</tspan><tspan x="2073" dy="14.7">+ setResponse()</tspan><tspan x="2073" dy="14.7">+ generateConnectionString()</tspan><tspan x="2073" dy="14.7">+ generateVersionString()</tspan></text></g>
<g id="n_map_chatline" class="ng"><rect x="2385" y="741" width="148" height="89.7"/><path d="M2385,780.7h148M2385,805.7h148"/><text class="c" x="2459" y="758.2">std::map&lt; std::string,<tspan x="2459" dy="14.7">Nice::ChatLinePtr &gt;</tspan></text><text x="2394" y="797.9">+ elements</text></g>
<g id="n_map_starenlarger" class="ng"><rect x="2867" y="741" width="166" height="89.7"/><path d="M2867,780.7h166M2867,805.7h166"/><text class="c" x="2950" y="758.2">std::map&lt; std::string,<tspan x="2950" dy="14.7">Laos::StarEnlargerPtr &gt;</tspan></text><text x="2876" y="797.9">+ elements</text></g>
<g id="n_sw_skeleton" class="nr"><rect x="3128" y="856" width="214" height="266.1"/><path d="M3128,881h214M3128,920.7h214"/><text class="c" x="3235" y="873.2">Basda::ServiceWorkerSkeleton</text>
<text x="3137" y="898.2"># m_id<tspan x="3137" dy="14.7"># m_cmd</tspan></text>
<text x="3137" y="937.9">+ cmd()<tspan x="3137" dy="14.7">+ setCompletion()</tspan><tspan x="3137" dy="14.7">+ cmdStart()</tspan><tspan x="3137" dy="14.7">+ cmdDone()</tspan><tspan x="3137" dy="14.7">+ cmdWarning()</tspan><tspan x="3137" dy="14.7">+ cmdWarning()</tspan><tspan x="3137" dy="14.7">+ cmdError()</tspan><tspan x="3137" dy="14.7">+ cmdError()</tspan><tspan x="3137" dy="14.7">+ cmdError()</tspan><tspan x="3137" dy="14.7">+ cmdPercent()</tspan><tspan x="3137" dy="14.7">and 22 more...</tspan><tspan x="3137" dy="14.7"># ServiceWorkerSkeleton()</tspan><tspan x="3137" dy="14.7"># ServiceWorkerSkeleton()</tspan></text></g>
<g id="n_laos_deviceasyncimpl" class="nb"><rect x="3366" y="937" width="181" height="104.4"/><path d="M3366,976.7h181M3366,1001.7h181"/><text class="c" x="3456.5" y="954.2">Laos::StarEnlargerService<tspan x="3456.5" dy="14.7">Worker::DeviceAsyncImpl</tspan></text>
<text x="3375" y="993.9">+ m_percent</text>
<text x="3375" y="1018.9">+ asyncWait()<tspan x="3375" dy="14.7">+ asyncStatus()</tspan></text></g>
<g id="n_laos_sw_skeleton" class="nb"><rect x="2825" y="1272" width="207" height="427.8"/><path d="M2825,1311.7h207M2825,1336.7h207"/><text class="c" x="2928.5" y="1289.2">Laos::StarEnlargerService<tspan x="2928.5" dy="14.7">WorkerSkeleton</tspan></text>
<text x="2834" y="1353.9">+ StarEnlargerServiceWorker<tspan x="2834" dy="14.7">Skeleton()</tspan><tspan x="2834" dy="14.7">+ ~StarEnlargerServiceWorker</tspan><tspan x="2834" dy="14.7">Skeleton()</tspan><tspan x="2834" dy="14.7">+ isReachable()</tspan><tspan x="2834" dy="14.7">+ convertPosition()</tspan><tspan x="2834" dy="14.7">+ getPosition()</tspan><tspan x="2834" dy="14.7">+ setTargets()</tspan><tspan x="2834" dy="14.7">+ resetCollision()</tspan><tspan x="2834" dy="14.7">+ isCurrentlyEnabled()</tspan><tspan x="2834" dy="14.7">+ getTravelrange()</tspan><tspan x="2834" dy="14.7">+ getTransformation()</tspan><tspan x="2834" dy="14.7">and 26 more...</tspan><tspan x="2834" dy="14.7"># isReachableNode()</tspan><tspan x="2834" dy="14.7"># convertPositionNode()</tspan><tspan x="2834" dy="14.7"># convertPositionInit()</tspan><tspan x="2834" dy="14.7"># getPositionNode()</tspan><tspan x="2834" dy="14.7"># getPositionInit()</tspan><tspan x="2834" dy="14.7"># setTargetsNode()</tspan><tspan x="2834" dy="14.7"># setTargetsInit()</tspan><tspan x="2834" dy="14.7"># resetCollisionNode()</tspan><tspan x="2834" dy="14.7"># isCurrentlyEnabledNode()</tspan><tspan x="2834" dy="14.7"># isCurrentlyEnabledInit()</tspan><tspan x="2834" dy="14.7">and 48 more...</tspan></text></g>
<g id="n_vector_servicelite" class="ng"><rect x="3055" y="1441" width="138" height="89.7"/><path d="M3055,1480.7h138M3055,1505.7h138"/><text class="c" x="3124" y="1458.2">std::vector&lt; Basda<tspan x="3124" dy="14.7">::ServiceLitePtr &gt;</tspan></text><text x="3064" y="1522.9">+ elements</text></g>
<g id="n_laos_devicecmdasyncimpl" class="nb"><rect x="3497" y="1441" width="205" height="89.7"/><path d="M3497,1480.7h205M3497,1505.7h205"/><text class="c" x="3599.5" y="1458.2">Laos::StarEnlargerService<tspan x="3599.5" dy="14.7">Worker::DeviceCmdAsyncImpl</tspan></text><text x="3506" y="1522.9">+ asyncStatus()</text></g>
<g id="n_laos_internal_skeleton" class="nr"><rect x="2793" y="1918" width="211" height="251.4"/><path d="M2793,1957.7h211M2793,1982.7h211"/><text class="c" x="2898.5" y="1935.2">Laos::StarEnlargerService<tspan x="2898.5" dy="14.7">WorkerInternalSkeleton</tspan></text>
<text x="2802" y="1999.9">+ StarEnlargerServiceWorker<tspan x="2802" dy="14.7">InternalSkeleton()</tspan><tspan x="2802" dy="14.7">+ isReachableBridgeFn()</tspan><tspan x="2802" dy="14.7">+ convertPositionBridgeFn()</tspan><tspan x="2802" dy="14.7">+ convertPositionInit()</tspan><tspan x="2802" dy="14.7">+ getPositionBridgeFn()</tspan><tspan x="2802" dy="14.7">+ getPositionInit()</tspan><tspan x="2802" dy="14.7">+ setTargetsBridgeFn()</tspan><tspan x="2802" dy="14.7">+ setTargetsInit()</tspan><tspan x="2802" dy="14.7">+ resetCollisionBridgeFn()</tspan><tspan x="2802" dy="14.7">+ isCurrentlyEnabledBridgeFn()</tspan><tspan x="2802" dy="14.7">and 19 more...</tspan></text></g>
<g id="n_laos_serviceworker" class="nb"><rect x="3135" y="1859" width="214" height="369"/><path d="M3135,1898.7h214M3135,1967.8h214"/><text class="c" x="3242" y="1876.2">Laos::StarEnlargerService<tspan x="3242" dy="14.7">Worker</tspan></text>
<text x="3144" y="1915.9">- m_coconDevice<tspan x="3144" dy="14.7">- m_starEnlargerNames</tspan><tspan x="3144" dy="14.7">- m_homeScriptException</tspan><tspan x="3144" dy="14.7">- m_coconInitFailed</tspan></text>
<text x="3144" y="1985">+ StarEnlargerServiceWorker()<tspan x="3144" dy="14.7">+ ~StarEnlargerServiceWorker()</tspan><tspan x="3144" dy="14.7">+ init()</tspan><tspan x="3144" dy="14.7">+ deinit()</tspan><tspan x="3144" dy="14.7">+ activate()</tspan><tspan x="3144" dy="14.7">+ deactivate()</tspan><tspan x="3144" dy="14.7">+ terminate()</tspan><tspan x="3144" dy="14.7">+ errorOffline()</tspan><tspan x="3144" dy="14.7">+ errorStandby()</tspan><tspan x="3144" dy="14.7">+ errorOnline()</tspan><tspan x="3144" dy="14.7">and 39 more...</tspan><tspan x="3144" dy="14.7"># status()</tspan><tspan x="3144" dy="14.7"># predict()</tspan><tspan x="3144" dy="14.7">- validateMove()</tspan><tspan x="3144" dy="14.7">- waitForCompletion()</tspan><tspan x="3144" dy="14.7">- getPythonTraceback()</tspan><tspan x="3144" dy="14.7">- updateCardlist()</tspan></text></g>
<g id="n_moccatraj_skeleton" class="nr"><rect x="3888" y="1286" width="260" height="398.4"/><path d="M3888,1325.7h260M3888,1350.7h260"/><text class="c" x="4018" y="1303.2">Basda::MoccaTrajServiceWorker<tspan x="4018" dy="14.7">Skeleton</tspan></text>
<text x="3897" y="1367.9">+ MoccaTrajServiceWorkerSkeleton()<tspan x="3897" dy="14.7">+ ~MoccaTrajServiceWorkerSkeleton()</tspan><tspan x="3897" dy="14.7">+ isReachable()</tspan><tspan x="3897" dy="14.7">+ getPosition()</tspan><tspan x="3897" dy="14.7">+ setPosition()</tspan><tspan x="3897" dy="14.7">+ getDeviceEncoderPosition()</tspan><tspan x="3897" dy="14.7">+ getAbsoluteEncoderPosition()</tspan><tspan x="3897" dy="14.7">+ getIncrementalEncoderPosition()</tspan><tspan x="3897" dy="14.7">+ getVelocity()</tspan><tspan x="3897" dy="14.7">+ setVelocity()</tspan><tspan x="3897" dy="14.7">and 42 more...</tspan><tspan x="3897" dy="14.7"># isReachableNode()</tspan><tspan x="3897" dy="14.7"># getPositionNode()</tspan><tspan x="3897" dy="14.7"># getPositionInit()</tspan><tspan x="3897" dy="14.7"># setPositionNode()</tspan><tspan x="3897" dy="14.7"># setPositionInit()</tspan><tspan x="3897" dy="14.7"># getDeviceEncoderPositionNode()</tspan><tspan x="3897" dy="14.7"># getDeviceEncoderPositionInit()</tspan><tspan x="3897" dy="14.7"># getAbsoluteEncoderPositionNode()</tspan><tspan x="3897" dy="14.7"># getIncrementalEncoderPositionNode()</tspan><tspan x="3897" dy="14.7"># getVelocityNode()</tspan><tspan x="3897" dy="14.7">and 64 more...</tspan></text></g>
<g id="n_vector_string" class="ng"><rect x="4070" y="1148" width="167" height="75"/><path d="M4070,1173h167M4070,1198h167"/><text class="c" x="4153.5" y="1165.2">std::vector&lt; std::string &gt;</text></g>
<g id="n_map_string_int" class="ng"><rect x="4171" y="1441" width="149" height="89.7"/><path d="M4171,1480.7h149M4171,1505.7h149"/><text class="c" x="4245.5" y="1458.2">std::map&lt; std::string,<tspan x="4245.5" dy="14.7">int &gt;</tspan></text><text x="4180" y="1522.9">+ elements</text></g>
<g id="n_nice_time" class="nr"><rect x="4583" y="1302" width="170" height="369"/><path d="M4583,1327h170M4583,1352h170"/><text class="c" x="4668" y="1319.2">Nice::Time</text>
<text x="4592" y="1369.2">+ Time()<tspan x="4592" dy="14.7">+ Time()</tspan><tspan x="4592" dy="14.7">+ Time()</tspan><tspan x="4592" dy="14.7">+ operator timeval()</tspan><tspan x="4592" dy="14.7">+ operator timespec()</tspan><tspan x="4592" dy="14.7">+ operator time_t()</tspan><tspan x="4592" dy="14.7">+ operator boost::xtime()</tspan><tspan x="4592" dy="14.7">+ toSeconds()</tspan><tspan x="4592" dy="14.7">+ toMilliSeconds()</tspan><tspan x="4592" dy="14.7">+ toMicroSeconds()</tspan><tspan x="4592" dy="14.7">and 78 more...</tspan><tspan x="4592" dy="14.7">+ seconds()</tspan><tspan x="4592" dy="14.7">+ milliSeconds()</tspan><tspan x="4592" dy="14.7">+ microSeconds()</tspan><tspan x="4592" dy="14.7">+ nanoSeconds()</tspan><tspan x="4592" dy="14.7">+ seconds()</tspan><tspan x="4592" dy="14.7">+ milliSeconds()</tspan><tspan x="4592" dy="14.7">+ microSeconds()</tspan><tspan x="4592" dy="14.7">+ nanoSeconds()</tspan><tspan x="4592" dy="14.7"># Time()</tspan><tspan x="4592" dy="14.7"># Time()</tspan></text></g>
<g id="n_moccan_deviceasyncimpl" class="nr"><rect x="4777" y="894" width="210" height="192.6"/><path d="M4777,963.1h210M4777,988.1h210"/><text class="c" x="4882" y="911.2">Basda::MoccaNServiceWorker<tspan x="4882" dy="14.7">Core&lt; DevType, SvcType,</tspan><tspan x="4882" dy="14.7">TransType, SkelType &gt;::</tspan><tspan x="4882" dy="14.7">DeviceAsyncImpl</tspan></text>
<text x="4786" y="980.3">+ m_d</text>
<text x="4786" y="1005.3">+ asyncWait()<tspan x="4786" dy="14.7">+ asyncStatus()</tspan><tspan x="4786" dy="14.7">+ asyncWait()</tspan><tspan x="4786" dy="14.7">+ asyncStatus()</tspan><tspan x="4786" dy="14.7">+ asyncWait()</tspan><tspan x="4786" dy="14.7">+ asyncStatus()</tspan></text></g>
<g id="n_moccan_devicecmdasyncimpl" class="nb"><rect x="4777" y="1412" width="210" height="148.5"/><path d="M4777,1481.1h210M4777,1506.1h210"/><text class="c" x="4882" y="1429.2">Basda::MoccaNServiceWorker<tspan x="4882" dy="14.7">Core&lt; DevType, SvcType,</tspan><tspan x="4882" dy="14.7">TransType, SkelType &gt;::</tspan><tspan x="4882" dy="14.7">DeviceCmdAsyncImpl</tspan></text>
<text x="4786" y="1523.3">+ asyncStatus()<tspan x="4786" dy="14.7">+ asyncStatus()</tspan><tspan x="4786" dy="14.7">+ asyncStatus()</tspan></text></g>
<g id="n_moccan_core" class="nb"><rect x="4064" y="1800" width="290" height="486.6"/><path d="M4064,1854.4h290M4064,1908.8h290"/><text class="c" x="4209" y="1817.2">Basda::MoccaNServiceWorker<tspan x="4209" dy="14.7">Core&lt; double, double, Nice</tspan><tspan x="4209" dy="14.7">::Point, MoccaTrajServiceWorkerSkeleton &gt;</tspan></text>
<text x="4073" y="1871.6"># m_device<tspan x="4073" dy="14.7"># m_numberOfUnits</tspan><tspan x="4073" dy="14.7"># m_stopProfile</tspan></text>
<text x="4073" y="1926">+ MoccaNServiceWorkerCore()<tspan x="4073" dy="14.7">+ MoccaNServiceWorkerCore()</tspan><tspan x="4073" dy="14.7">+ MoccaNServiceWorkerCore()</tspan><tspan x="4073" dy="14.7">+ ~MoccaNServiceWorkerCore()</tspan><tspan x="4073" dy="14.7">+ ~MoccaNServiceWorkerCore()</tspan><tspan x="4073" dy="14.7">+ ~MoccaNServiceWorkerCore()</tspan><tspan x="4073" dy="14.7">+ init()</tspan><tspan x="4073" dy="14.7">+ init()</tspan><tspan x="4073" dy="14.7">+ init()</tspan><tspan x="4073" dy="14.7">+ deinit()</tspan><tspan x="4073" dy="14.7">and 119 more...</tspan><tspan x="4073" dy="14.7"># status()</tspan><tspan x="4073" dy="14.7"># status()</tspan><tspan x="4073" dy="14.7"># status()</tspan><tspan x="4073" dy="14.7"># deviceAsyncImpl()</tspan><tspan x="4073" dy="14.7"># deviceAsyncImpl()</tspan><tspan x="4073" dy="14.7"># deviceAsyncImpl()</tspan><tspan x="4073" dy="14.7"># deviceCmdAsyncImpl()</tspan><tspan x="4073" dy="14.7"># deviceCmdAsyncImpl()</tspan><tspan x="4073" dy="14.7"># deviceCmdAsyncImpl()</tspan><tspan x="4073" dy="14.7"># coordinateTransformation()</tspan><tspan x="4073" dy="14.7">and 32 more...</tspan><tspan x="4073" dy="14.7"># getDefaultTransformation()</tspan><tspan x="4073" dy="14.7"># getDefaultTransformation()</tspan><tspan x="4073" dy="14.7"># getDefaultTransformation()</tspan></text></g>
<g id="n_moccatraj_serviceworker" class="nb"><rect x="3888" y="2498" width="226" height="236.7"/><path d="M3888,2523h226M3888,2548h226"/><text class="c" x="4001" y="2515.2">Basda::MoccaTrajServiceWorker</text>
<text x="3897" y="2565.2">+ MoccaTrajServiceWorker()<tspan x="3897" dy="14.7">+ ~MoccaTrajServiceWorker()</tspan><tspan x="3897" dy="14.7">+ startProfile()</tspan><tspan x="3897" dy="14.7">+ changeProfile()</tspan><tspan x="3897" dy="14.7">+ transformationFactorChanged()</tspan><tspan x="3897" dy="14.7">+ coordinateTransformation()</tspan><tspan x="3897" dy="14.7">+ coordinateTransformation</tspan><tspan x="3897" dy="14.7">Inverse()</tspan><tspan x="3897" dy="14.7">+ coordinateTranslateInverse()</tspan><tspan x="3897" dy="14.7">+ MoccaTrajServiceWorker()</tspan><tspan x="3897" dy="14.7">+ ~MoccaTrajServiceWorker()</tspan><tspan x="3897" dy="14.7">and 6 more...</tspan></text></g>
<g id="n_fixture" class="nb"><rect x="1943" y="2961" width="235" height="560.1"/><path d="M1943,2986h235M1943,3158h235"/><text class="c" x="2060.5" y="2978.2">Fixture</text>
<text x="1952" y="3003.2">+ m_worker<tspan x="1952" dy="14.7">+ m_drot</tspan><tspan x="1952" dy="14.7">+ m_device</tspan><tspan x="1952" dy="14.7">+ m_client</tspan><tspan x="1952" dy="14.7">+ m_config</tspan><tspan x="1952" dy="14.7">+ config</tspan><tspan x="1952" dy="14.7">+ loop</tspan><tspan x="1952" dy="14.7">+ N_MAX_SPARE_SOCKETS</tspan><tspan x="1952" dy="14.7">+ wrapped</tspan><tspan x="1952" dy="14.7">+ sock</tspan><tspan x="1952" dy="14.7">and 62 more...</tspan></text>
<text x="1952" y="3175.2">+ Fixture()<tspan x="1952" dy="14.7">+ ~Fixture()</tspan><tspan x="1952" dy="14.7">+ Fixture()</tspan><tspan x="1952" dy="14.7">+ ~Fixture()</tspan><tspan x="1952" dy="14.7">+ Fixture()</tspan><tspan x="1952" dy="14.7">+ ~Fixture()</tspan><tspan x="1952" dy="14.7">+ getSinusCurve()</tspan><tspan x="1952" dy="14.7">+ generateTrajectory()</tspan><tspan x="1952" dy="14.7">+ Fixture()</tspan><tspan x="1952" dy="14.7">+ setReconstructionMatrixFromFits()</tspan><tspan x="1952" dy="14.7">and 365 more...</tspan><tspan x="1952" dy="14.7">+ printMatrix()</tspan><tspan x="1952" dy="14.7">+ printError()</tspan><tspan x="1952" dy="14.7">+ load2DFits()</tspan><tspan x="1952" dy="14.7">+ load1DFits()</tspan><tspan x="1952" dy="14.7">+ fillBitmaskFromFits()</tspan><tspan x="1952" dy="14.7">+ getPayload()</tspan><tspan x="1952" dy="14.7">+ getPayload()</tspan><tspan x="1952" dy="14.7">- insertLoadName()</tspan><tspan x="1952" dy="14.7">- insertLoadName()</tspan><tspan x="1952" dy="14.7">- setupMiniNiceApplication()</tspan><tspan x="1952" dy="14.7">- buildMiniConfigTree()</tspan><tspan x="1952" dy="14.7">- setupMiniNiceApplication()</tspan><tspan x="1952" dy="14.7">- buildMiniConfigTree()</tspan></text></g>
<g id="n_lcdeviceopenfixture" class="nf"><rect x="1966" y="3592" width="189" height="177.9"/><path d="M1966,3617h189M1966,3642h189"/><text class="c" x="2060.5" y="3609.2">LCDeviceOpenFixture</text>
<text x="1975" y="3659.2">+ LCDeviceOpenFixture()<tspan x="1975" dy="14.7">+ ~LCDeviceOpenFixture()</tspan><tspan x="1975" dy="14.7">+ open()</tspan><tspan x="1975" dy="14.7">+ generateResponseOpen()</tspan><tspan x="1975" dy="14.7">+ LCDeviceOpenFixture()</tspan><tspan x="1975" dy="14.7">+ ~LCDeviceOpenFixture()</tspan><tspan x="1975" dy="14.7">+ open()</tspan><tspan x="1975" dy="14.7">+ generateResponseOpen()</tspan></text></g>
<g id="n_basda_deviceasyncimpl" class="nb"><rect x="4546" y="3180" width="175" height="119.1"/><path d="M4546,3205h175M4546,3230h175"/><text class="c" x="4633.5" y="3197.2">Basda::DeviceAsyncImpl</text>
<text x="4555" y="3247.2">+ asyncWait()<tspan x="4555" dy="14.7">+ asyncStatus()</tspan><tspan x="4555" dy="14.7">+ asyncWait()</tspan><tspan x="4555" dy="14.7">+ asyncStatus()</tspan></text></g>
<g id="n_fixture_devicecmdasyncimpl" class="nb"><rect x="4532" y="3584" width="203" height="192.6"/><path d="M4532,3609h203M4532,3634h203"/><text class="c" x="4633.5" y="3601.2">Fixture::DeviceCmdAsyncImpl</text>
<text x="4541" y="3651.2">+ asyncStatus()<tspan x="4541" dy="14.7">+ asyncStatus()</tspan><tspan x="4541" dy="14.7">+ asyncStatus()</tspan><tspan x="4541" dy="14.7">+ asyncStatus()</tspan><tspan x="4541" dy="14.7">+ asyncStatus()</tspan><tspan x="4541" dy="14.7">+ asyncStatus()</tspan><tspan x="4541" dy="14.7">+ asyncStatus()</tspan><tspan x="4541" dy="14.7">+ asyncStatus()</tspan><tspan x="4541" dy="14.7">+ asyncStatus()</tspan></text></g>
</g>
</svg>
